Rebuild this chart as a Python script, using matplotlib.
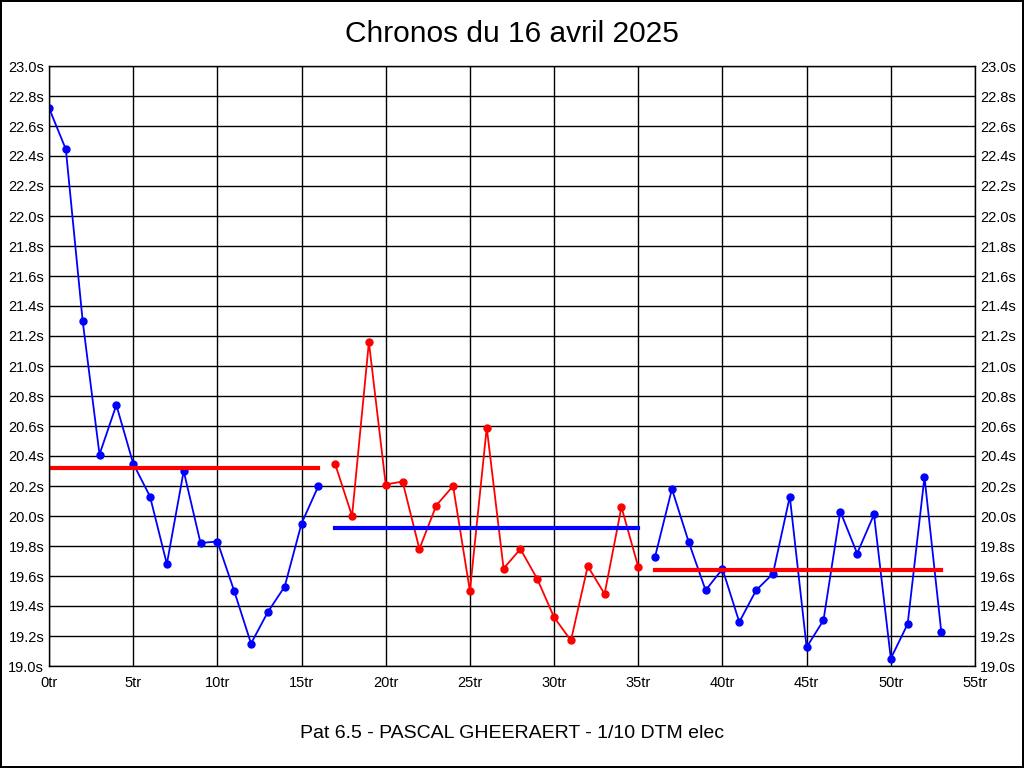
import matplotlib
matplotlib.use("Agg")
import matplotlib.pyplot as plt
from matplotlib.ticker import MultipleLocator, FuncFormatter
import numpy as np

# lap times per session (seconds)
laps_1 = np.arange(0, 17)
times_1 = [22.72, 22.445, 21.30, 20.41, 20.74, 20.35, 20.13, 19.68, 20.30,
           19.82, 19.83, 19.50, 19.15, 19.36, 19.53, 19.95, 20.20]
laps_2 = np.arange(17, 36)
times_2 = [20.345, 20.00, 21.16, 20.21, 20.23, 19.78, 20.07, 20.20, 19.50,
           20.59, 19.65, 19.78, 19.58, 19.325, 19.17, 19.665, 19.48, 20.06, 19.66]
laps_3 = np.arange(36, 54)
times_3 = [19.73, 20.18, 19.825, 19.505, 19.647, 19.293, 19.505, 19.615, 20.13,
           19.125, 19.305, 20.03, 19.75, 20.01, 19.05, 19.28, 20.26, 19.225]

# average lines per session
avg_1 = 20.32
avg_2 = 19.92
avg_3 = 19.64

title = "Chronos du 16 avril 2025"
subtitle = "Pat 6.5 - PASCAL GHEERAERT - 1/10 DTM elec"

plt.rcParams['font.family'] = ['Liberation Sans', 'DejaVu Sans']

fig = plt.figure(figsize=(10.24, 7.68), dpi=100)
fig.patch.set_edgecolor('black')
fig.patch.set_linewidth(1.5)
ax = fig.add_axes([49 / 1024, 1 - 666 / 768, 926 / 1024, 600 / 768])

ax.plot(laps_1, times_1, color='blue', lw=1.3, marker='o', ms=5)
ax.plot(laps_2, times_2, color='red', lw=1.3, marker='o', ms=5)
ax.plot(laps_3, times_3, color='blue', lw=1.3, marker='o', ms=5)

ax.plot([laps_1[0], laps_1[-1]], [avg_1, avg_1], color='red', lw=3)
ax.plot([laps_2[0], laps_2[-1]], [avg_2, avg_2], color='blue', lw=3)
ax.plot([laps_3[0], laps_3[-1]], [avg_3, avg_3], color='red', lw=3)

ax.set_xlim(0, 55)
ax.set_ylim(19.0, 23.0)
ax.xaxis.set_major_locator(MultipleLocator(5))
ax.yaxis.set_major_locator(MultipleLocator(0.2))
ax.xaxis.set_major_formatter(FuncFormatter(lambda v, p: f"{v:.0f}tr"))
ax.yaxis.set_major_formatter(FuncFormatter(lambda v, p: f"{v:.1f}s"))
ax.grid(True, color='black', lw=1)
ax.set_axisbelow(True)
ax.tick_params(axis='both', length=0, labelsize=10.5)
ax.tick_params(axis='x', pad=7)
ax.tick_params(axis='y', labelright=True, right=False, pad=3.5)
for s in ax.spines.values():
    s.set_linewidth(1)

fig.text(0.5, 1 - 34 / 768, title, ha='center', va='center', fontsize=21.5)
fig.text(0.5, 1 - 733 / 768, subtitle, ha='center', va='center', fontsize=14)

fig.savefig("out.png", dpi=100, edgecolor=fig.get_edgecolor())
